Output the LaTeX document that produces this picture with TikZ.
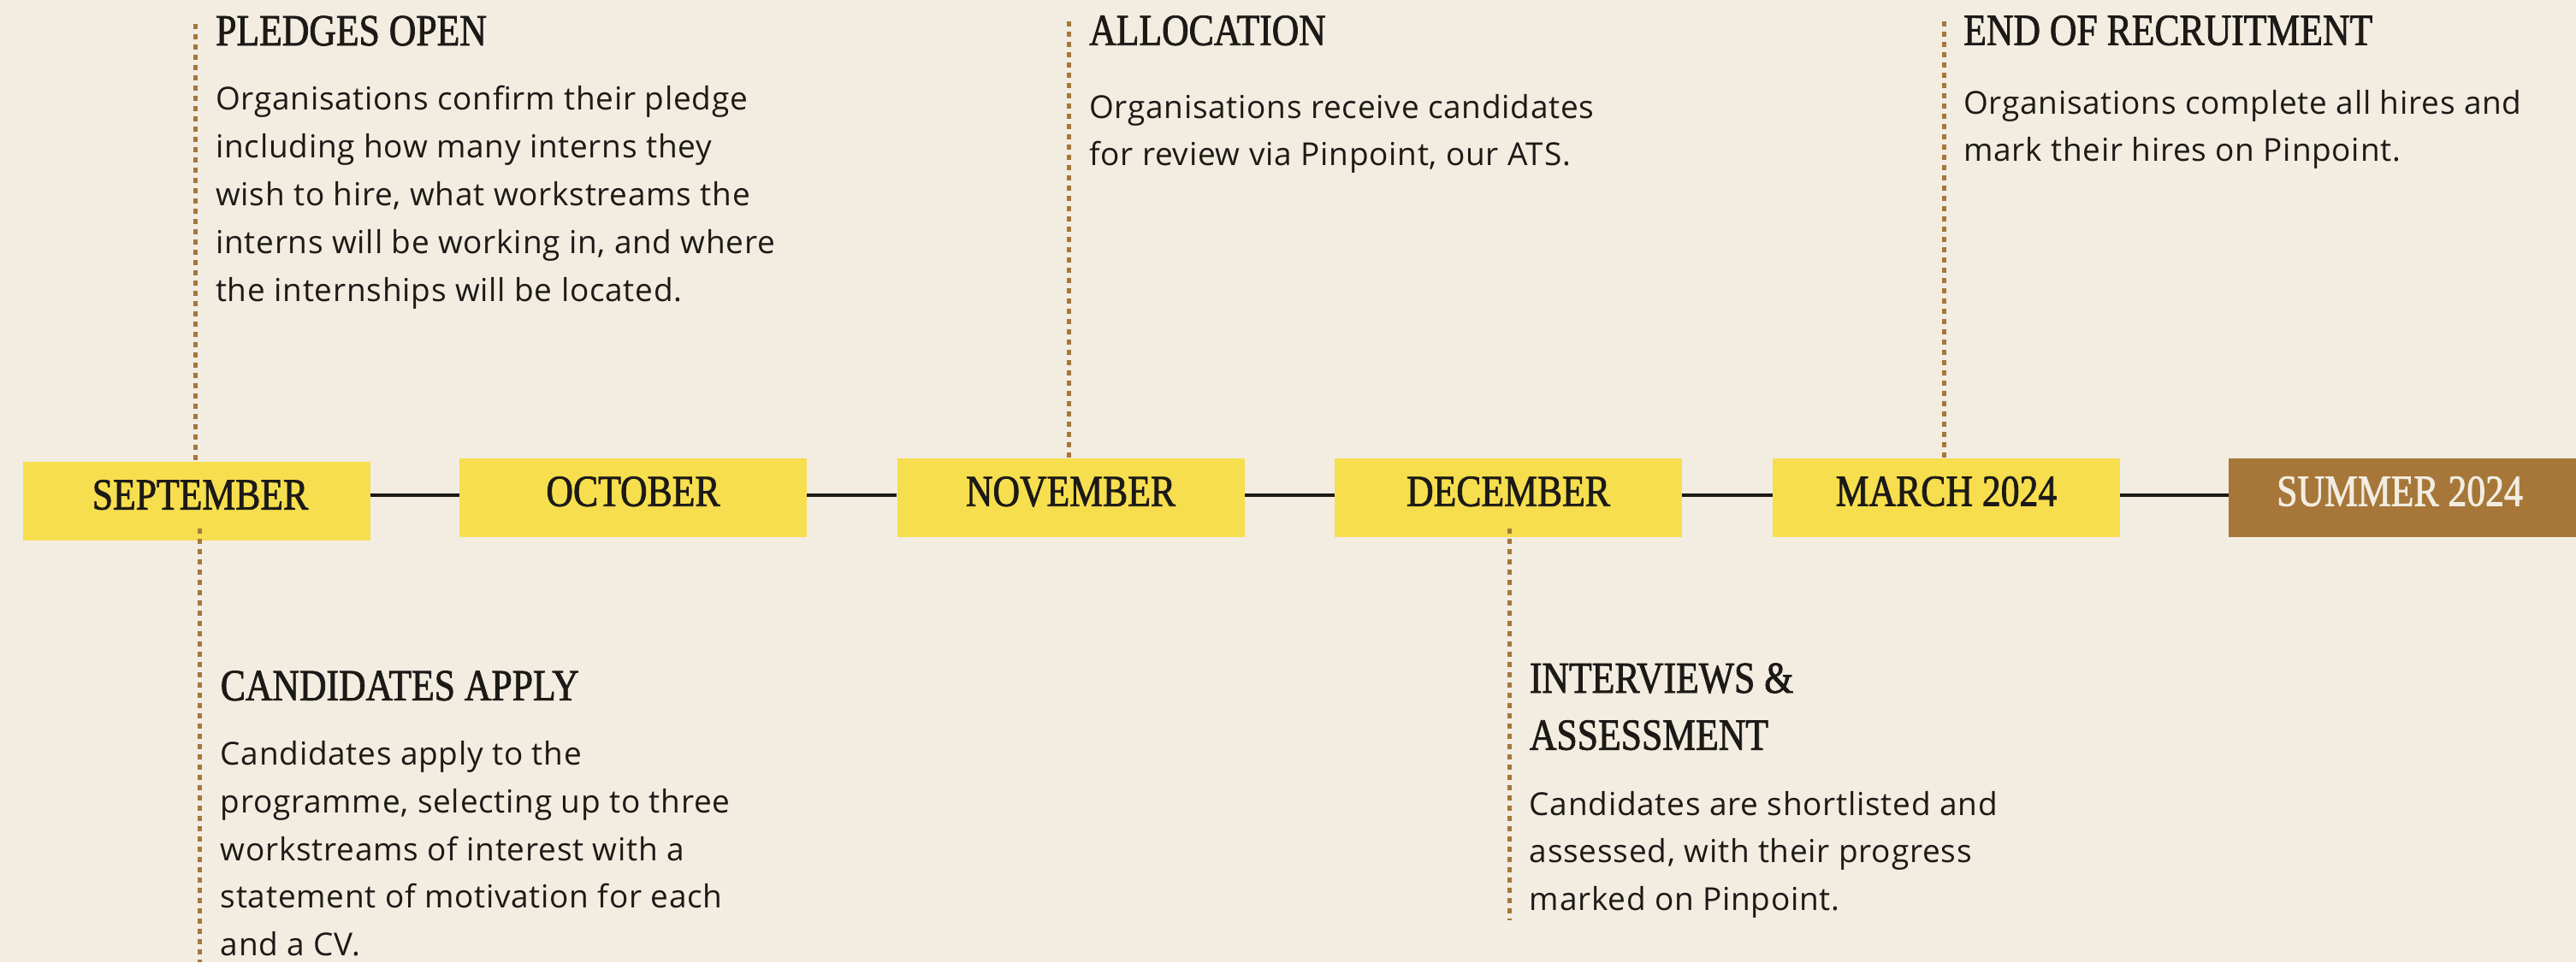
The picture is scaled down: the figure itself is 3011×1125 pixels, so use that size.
\documentclass[tikz,border=0pt]{standalone}
\usepackage{fontspec}
\newfontfamily\headfont[FakeStretch=0.84,FakeBold=1.5]{Liberation Serif}
\newfontfamily\bodyfont[LetterSpace=2]{Open Sans}
\definecolor{bg}{HTML}{F2ECE1}
\definecolor{ylw}{HTML}{F7DE4E}
\definecolor{brn}{HTML}{A67739}
\definecolor{ink}{HTML}{1C1A17}
\newcommand{\bodytext}[2]{\parbox[t]{900pt}{\raggedright\bodyfont\fontsize{37}{#1}\selectfont #2}}
\begin{document}
\begin{tikzpicture}[x=1pt,y=-1pt,
  box/.style={rectangle, fill=ylw, minimum width=406pt, minimum height=92pt, inner sep=0pt},
  lastbox/.style={box, fill=brn},
  month/.style={font=\headfont\fontsize{52}{52}\selectfont, text=ink, inner sep=0pt, anchor=base},
  lastmonth/.style={month, text=bg},
  head/.style={font=\headfont\fontsize{52}{66.6}\selectfont, text=ink, inner sep=0pt, anchor=base west, align=left},
  body/.style={text=ink, inner sep=0pt, anchor=base west},
  link/.style={draw=ink, line width=3.5pt},
  dots/.style={draw=brn, line width=5pt, dash pattern=on 5.5pt off 6.5pt}]
\fill[bg] (0,0) rectangle (3011,1125);
\useasboundingbox (0,0) rectangle (3011,1125);

% month boxes
\node[box] (sep) at (229.5,585.5) {};
\node[box] (oct) at (740,582) {};
\node[box] (nov) at (1251.5,582) {};
\node[box] (dec) at (1763,582) {};
\node[box] (mar) at (2275,582) {};
\node[lastbox] (sum) at (2808,582) {};

\node[month] (sept) at (234,595.6) {SEPTEMBER};
\node[month] (octt) at (740,591.7) {OCTOBER};
\node[month] (novt) at (1251.5,591.7) {NOVEMBER};
\node[month] (dect) at (1763,591.7) {DECEMBER};
\node[month] (mart) at (2275,591.5) {MARCH 2024};
\node[lastmonth] (sumt) at (2805,591.5) {SUMMER 2024};

% connectors
\coordinate (lnY) at (0,579);
\draw[link] (sep.east |- lnY) -- (oct.west |- lnY);
\draw[link] (oct.east |- lnY) -- (nov.west |- lnY);
\draw[link] (nov.east |- lnY) -- (dec.west |- lnY);
\draw[link] (dec.east |- lnY) -- (mar.west |- lnY);
\draw[link] (mar.east |- lnY) -- (sum.west |- lnY);

% dotted leaders
\coordinate (pdTop) at (228,28);
\draw[dots] (pdTop) -- (pdTop |- sep.north);
\coordinate (caTop) at (233,618);
\coordinate (caBot) at (233,1125);
\draw[dots] (caTop) -- (caBot);
\coordinate (alTop) at (1249,25);
\draw[dots] (alTop) -- (alTop |- nov.north);
\coordinate (inTop) at (1764,618);
\coordinate (inBot) at (1764,1076);
\draw[dots] (inTop) -- (inBot);
\coordinate (enTop) at (2272,25);
\draw[dots] (enTop) -- (enTop |- mar.north);

% texts
\node[head] (pledgeH) at (252,53) {PLEDGES OPEN};
\node[body] (pledgeB) at (252,128) {\bodytext{56}{Organisations confirm their pledge\\
including how many interns they\\
wish to hire, what workstreams the\\
interns will be working in, and where\\
the internships will be located.}};

\node[head] (candH) at (257.6,818.8) {CANDIDATES APPLY};
\node[body] (candB) at (257.6,894.6) {\bodytext{55.7}{Candidates apply to the\\
programme, selecting up to three\\
workstreams of interest with a\\
statement of motivation for each\\
and a CV.}};

\node[head] (allocH) at (1273,52.7) {ALLOCATION};
\node[body] (allocB) at (1273,138.3) {\bodytext{55}{Organisations receive candidates\\
for review via Pinpoint, our ATS.}};

\node[head] (intH) at (1787.7,876.6) {INTERVIEWS \&\\ASSESSMENT};
\node[body] (intB) at (1787.7,953) {\bodytext{55.5}{Candidates are shortlisted and\\
assessed, with their progress\\
marked on Pinpoint.}};

\node[head] (endH) at (2295,52.6) {END OF RECRUITMENT};
\node[body] (endB) at (2295,133.8) {\bodytext{55}{Organisations complete all hires and\\
mark their hires on Pinpoint.}};
\end{tikzpicture}
\end{document}
